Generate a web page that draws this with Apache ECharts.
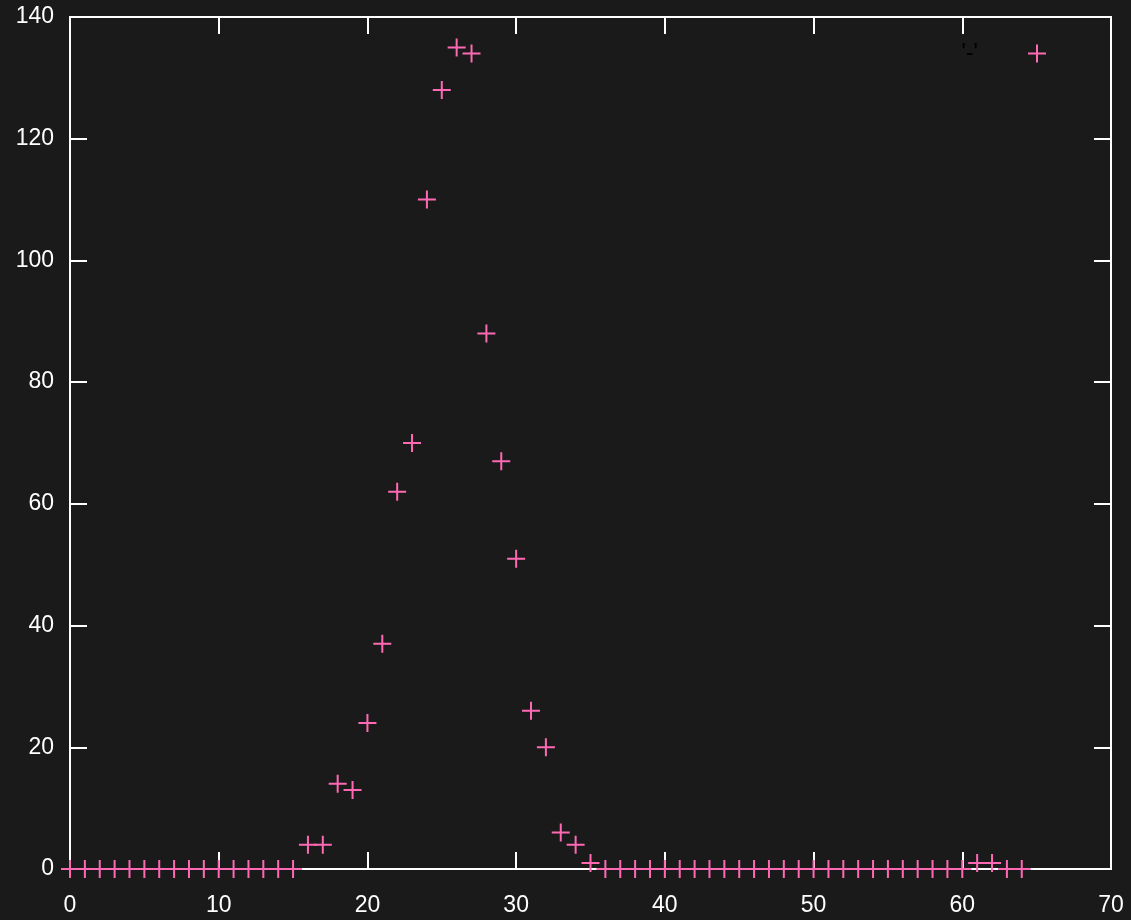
<!DOCTYPE html>
<html>
<head>
<meta charset="utf-8">
<script src="https://cdn.jsdelivr.net/npm/echarts@6/dist/echarts.min.js"></script>
<style>
html,body{margin:0;padding:0;background:#1a1a1a;}
#chart{width:1131px;height:920px;}
</style>
</head>
<body>
<div id="chart"></div>
<script>
// Data
const xValues = [0,1,2,3,4,5,6,7,8,9,10,11,12,13,14,15,16,17,18,19,20,21,22,23,24,25,26,27,28,29,30,31,32,33,34,35,36,37,38,39,40,41,42,43,44,45,46,47,48,49,50,51,52,53,54,55,56,57,58,59,60,61,62,63,64];
const yValues = [0,0,0,0,0,0,0,0,0,0,0,0,0,0,0,0,4,4,14,13,24,37,62,70,110,128,135,134,88,67,51,26,20,6,4,1,0,0,0,0,0,0,0,0,0,0,0,0,0,0,0,0,0,0,0,0,0,0,0,0,0,1,1,0,0];
const seriesName = "'-'";
const xTicks = [0,10,20,30,40,50,60,70];
const yTicks = [0,20,40,60,80,100,120,140];

const points = xValues.map((x, i) => [x, yValues[i]]);
const plusPath = 'path://M8,0H10V8H18V10H10V18H8V10H0V8H8Z';
const font = "'Liberation Sans', Arial, sans-serif";
const tickStyle = {show: true, inside: true, length: 17, lineStyle: {color: '#ffffff', width: 2}};
const noLine = {show: false, onZero: false};

const chart = echarts.init(document.getElementById('chart'), null, {renderer: 'canvas'});
chart.setOption({
  backgroundColor: '#1a1a1a',
  animation: false,
  grid: {left: 70, right: 20, top: 17, bottom: 51, show: true, borderColor: '#ffffff', borderWidth: 2, backgroundColor: 'transparent'},
  legend: {
    data: [{name: seriesName, icon: plusPath}],
    right: 80, top: 37,
    align: 'right',
    itemWidth: 18, itemHeight: 18,
    textStyle: {color: '#000000', fontSize: 23, fontFamily: font, padding: [0, 45, 0, 0]},
    selectedMode: false
  },
  xAxis: [
    {type: 'value', min: 0, max: 70, interval: 10, position: 'bottom',
     axisLine: noLine, axisTick: tickStyle, splitLine: {show: false},
     axisLabel: {color: '#ffffff', fontSize: 23, fontFamily: font, margin: 25, formatter: v => xTicks.includes(v) ? String(v) : ''}},
    {type: 'value', min: 0, max: 70, interval: 10, position: 'top',
     axisLine: noLine, axisTick: tickStyle, splitLine: {show: false}, axisLabel: {show: false}}
  ],
  yAxis: [
    {type: 'value', min: 0, max: 140, interval: 20, position: 'left',
     axisLine: noLine, axisTick: tickStyle, splitLine: {show: false},
     axisLabel: {color: '#ffffff', fontSize: 23, fontFamily: font, margin: 16, formatter: v => yTicks.includes(v) ? String(v) : ''}},
    {type: 'value', min: 0, max: 140, interval: 20, position: 'right',
     axisLine: noLine, axisTick: tickStyle, splitLine: {show: false}, axisLabel: {show: false}}
  ],
  series: [{
    name: seriesName,
    type: 'scatter',
    xAxisIndex: 0, yAxisIndex: 0,
    data: points,
    symbol: plusPath,
    symbolSize: 18,
    itemStyle: {color: '#ff69b4', opacity: 1},
    clip: false,
    z: 5
  }]
});
</script>
</body>
</html>
